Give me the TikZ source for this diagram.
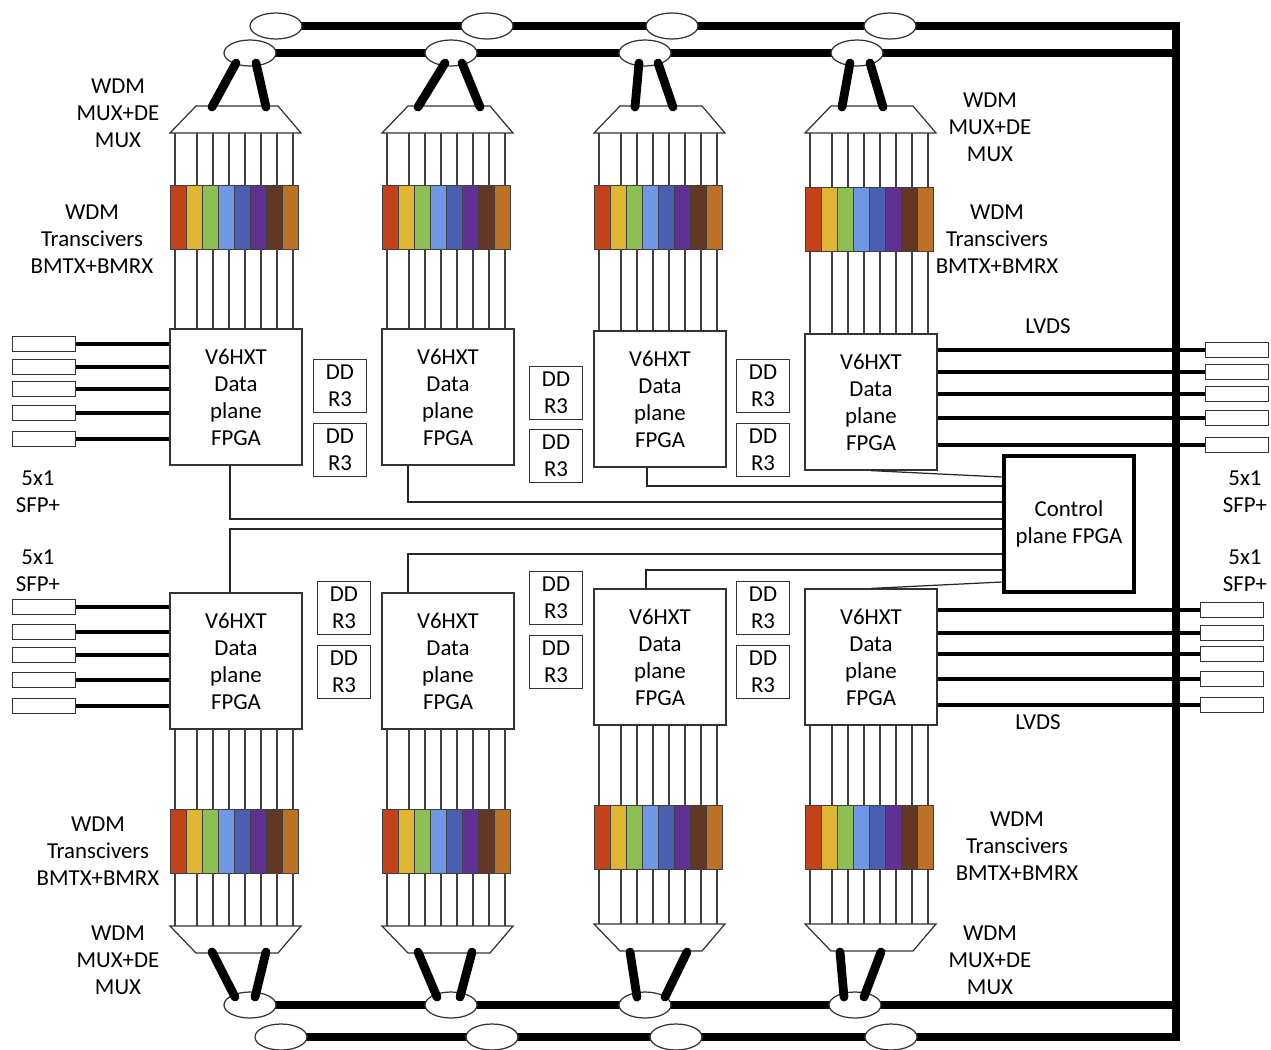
\documentclass[tikz,border=0pt]{standalone}
\usepackage{fontspec}
\setmainfont{Carlito}
\usetikzlibrary{positioning,shapes.geometric,backgrounds}
\definecolor{chred}{RGB}{196,66,25}
\definecolor{chyellow}{RGB}{222,182,52}
\definecolor{chgreen}{RGB}{140,190,84}
\definecolor{chsky}{RGB}{112,150,230}
\definecolor{chblue}{RGB}{74,94,178}
\definecolor{chpurple}{RGB}{96,48,146}
\definecolor{chbrown}{RGB}{98,55,35}
\definecolor{chorange}{RGB}{188,114,38}

\begin{document}
\begin{tikzpicture}[
  x=0.02cm, y=-0.02cm,
  font=\fontsize{13}{15.4}\selectfont,
  fpga/.style={rectangle, draw=black!80, fill=white, minimum width=2.64cm,
    minimum height=2.72cm, align=center, inner sep=0pt, line width=0.7pt},
  ddr/.style={rectangle, draw=black!80, minimum width=1.06cm,
    minimum height=1.06cm, align=center, inner sep=0pt, line width=0.7pt},
  sfp/.style={rectangle, draw=black!80, minimum width=1.26cm,
    minimum height=0.3cm, inner sep=0pt, line width=0.7pt},
  ring/.style={ellipse, draw=black!80, fill=white, minimum width=1.04cm,
    minimum height=0.52cm, inner sep=0pt, line width=0.7pt},
  txt/.style={align=center, inner sep=0pt},
  bus/.style={line width=5pt, line join=miter},
  fibre/.style={line width=5pt, line cap=round},
  lane/.style={line width=0.6pt, draw=black!75},
  mux/.style={line width=0.7pt, draw=black!80, fill=white},
  lvds/.style={line width=2.2pt},
  ctl/.style={line width=0.7pt, draw=black!85}
]
\useasboundingbox (0,0) rectangle (1271,1049);

% Data plane FPGAs
\node[fpga] (f1) at (236,397) {V6HXT\\Data\\plane\\FPGA};
\node[fpga] (f2) at (448,397) {V6HXT\\Data\\plane\\FPGA};
\node[fpga] (f3) at (660,399) {V6HXT\\Data\\plane\\FPGA};
\node[fpga] (f4) at (871,402) {V6HXT\\Data\\plane\\FPGA};
\node[fpga] (f5) at (236,661) {V6HXT\\Data\\plane\\FPGA};
\node[fpga] (f6) at (448,661) {V6HXT\\Data\\plane\\FPGA};
\node[fpga] (f7) at (660,657) {V6HXT\\Data\\plane\\FPGA};
\node[fpga] (f8) at (871,657) {V6HXT\\Data\\plane\\FPGA};

% DDR3 memories
\node[ddr] (m1)  at (340,386)   {DD\\R3};
\node[ddr] (m2)  at (340,450)   {DD\\R3};
\node[ddr] (m3)  at (556,393)   {DD\\R3};
\node[ddr] (m4)  at (556,456)   {DD\\R3};
\node[ddr] (m5)  at (763,386)   {DD\\R3};
\node[ddr] (m6)  at (763,450)   {DD\\R3};
\node[ddr] (m7)  at (344,608)   {DD\\R3};
\node[ddr] (m8)  at (344,672)   {DD\\R3};
\node[ddr] (m9)  at (556,598)   {DD\\R3};
\node[ddr] (m10) at (556,662)   {DD\\R3};
\node[ddr] (m11) at (763,608)   {DD\\R3};
\node[ddr] (m12) at (763,672)   {DD\\R3};

% Control plane
\node[draw, line width=2.6pt, minimum width=2.6cm, minimum height=2.72cm,
  align=center] (ctrl) at (1069,524) {Control\\plane FPGA};

% Rings on the fibre buses
\foreach \n/\x in {1/276,2/487,3/672,4/890} \node[ring] (ta\n) at (\x,26) {};
\foreach \n/\x in {1/250,2/451,3/645,4/857} \node[ring] (tb\n) at (\x,53) {};
\foreach \n/\x in {1/250,2/451,3/645,4/855} \node[ring] (ba\n) at (\x,1005) {};
\foreach \n/\x in {1/281,2/492,3/676,4/891} \node[ring] (bb\n) at (\x,1037) {};

\begin{scope}[on background layer]
  \coordinate (corner) at (1176,26);
  \draw[bus] (ta1.center) -- (corner) -- (corner |- bb1) -- (bb1.center);
  \draw[bus] (tb1.center) -- (tb1 -| corner);
  \draw[bus] (ba1.center) -- (ba1 -| corner);
\end{scope}

% Upper columns: lanes, transceivers, mux
\foreach \c/\xl/\bt in {1/170/185,2/382/185,3/594/185,4/805/187} {
  \foreach \o in {5,27,43,59,75,91,107,123}
    \draw[lane] ({\xl+\o},133) -- ({\xl+\o},0 |- f\c.north);
  \foreach \col [count=\i from 0] in {chred,chyellow,chgreen,chsky,chblue,chpurple,chbrown,chorange}
    \filldraw[fill=\col, draw=black!75, line width=0.5pt] ({\xl+16*\i},\bt) rectangle ++(16,64);
  \draw[mux] ({\xl+26},106) -- ({\xl+108},106) -- ({\xl+131},133) -- (\xl,133) -- cycle;
}

% Lower columns
\foreach \c/\xl/\bt/\tt in {5/170/809/926,6/382/809/926,7/594/805/924,8/805/805/924} {
  \foreach \o in {5,27,43,59,75,91,107,123}
    \draw[lane] ({\xl+\o},0 |- f\c.south) -- ({\xl+\o},\tt);
  \foreach \col [count=\i from 0] in {chred,chyellow,chgreen,chsky,chblue,chpurple,chbrown,chorange}
    \filldraw[fill=\col, draw=black!75, line width=0.5pt] ({\xl+16*\i},\bt) rectangle ++(16,64);
  \draw[mux] (\xl,\tt) -- ({\xl+131},\tt) -- ({\xl+108},{\tt+27}) -- ({\xl+26},{\tt+27}) -- cycle;
}

% Fibres mux to ring
\foreach \a/\b in {236/212,256/266,445/418,462/480,639/635,658/673,850/842,870/883}
  \draw[fibre] (\a,63) -- (\b,107);
\foreach \a/\b in {235/212,255/266,437/418,460/472,637/630,665/687,844/840,864/881}
  \draw[fibre] (\a,997) -- (\b,952);

% SFP+ ports
\foreach \n/\y in {1/344,2/367,3/389,4/413,5/439} {
  \node[sfp] (sa\n) at (44,\y) {};
  \draw[lvds] (sa\n.east) -- (sa\n -| f1.west);
}
\foreach \n/\y in {1/607,2/632,3/655,4/680,5/706} {
  \node[sfp] (sb\n) at (44,\y) {};
  \draw[lvds] (sb\n.east) -- (sb\n -| f5.west);
}
\foreach \n/\y in {1/350,2/372,3/394,4/418,5/445} {
  \node[sfp] (sc\n) at (1237,\y) {};
  \draw[lvds] (sc\n -| f4.east) -- (sc\n.west);
}
\foreach \n/\y in {1/610,2/633,3/654,4/679,5/705} {
  \node[sfp] (sd\n) at (1232,\y) {};
  \draw[lvds] (sd\n -| f8.east) -- (sd\n.west);
}

% Control links
\draw[ctl] (230,0 |- f1.south) |- (ctrl.west |- 0,519);
\draw[ctl] (408,0 |- f2.south) |- (ctrl.west |- 0,502);
\draw[ctl] (647,0 |- f3.south) |- (ctrl.west |- 0,486);
\draw[ctl] (f4.south) -- (ctrl.west |- 0,477);
\draw[ctl] (230,0 |- f5.north) |- (ctrl.west |- 0,529);
\draw[ctl] (408,0 |- f6.north) |- (ctrl.west |- 0,554);
\draw[ctl] (646,0 |- f7.north) |- (ctrl.west |- 0,570);
\draw[ctl] (f8.north) -- (ctrl.west |- 0,582);

% Labels
\node[txt] (muxtl) at (118,113) {WDM\\MUX+DE\\MUX};
\node[txt] (trxtl) at (92,239) {WDM\\Transcivers\\BMTX+BMRX};
\node[txt] (muxtr) at (990,127) {WDM\\MUX+DE\\MUX};
\node[txt] (trxtr) at (997,239) {WDM\\Transcivers\\BMTX+BMRX};
\node[txt] (trxbl) at (98,851) {WDM\\Transcivers\\BMTX+BMRX};
\node[txt] (muxbl) at (118,960) {WDM\\MUX+DE\\MUX};
\node[txt] (trxbr) at (1017,846) {WDM\\Transcivers\\BMTX+BMRX};
\node[txt] (muxbr) at (990,960) {WDM\\MUX+DE\\MUX};
\node[txt] (sfptl) at (38,492) {5x1\\SFP+};
\node[txt] (sfpbl) at (38,571) {5x1\\SFP+};
\node[txt] (sfptr) at (1245,492) {5x1\\SFP+};
\node[txt] (sfpbr) at (1245,571) {5x1\\SFP+};
\node[txt] (lvdst) at (1048,326) {LVDS};
\node[txt] (lvdsb) at (1038,722) {LVDS};
\end{tikzpicture}
\end{document}
